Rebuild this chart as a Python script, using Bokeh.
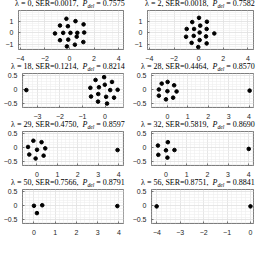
from bokeh.plotting import figure
from bokeh.layouts import column, row
from bokeh.models import Range1d, FixedTicker, Div
from bokeh.embed import file_html
from bokeh.resources import INLINE
import numpy as np

# ---------------- data ----------------
lambdas = [0, 2, 18, 28, 29, 32, 50, 56]
sers = ["0.0017", "0.0018", "0.1214", "0.4464", "0.4750", "0.5819", "0.7566", "0.8751"]
pdels = ["0.7575", "0.7582", "0.8214", "0.8570", "0.8597", "0.8690", "0.8791", "0.8841"]

x_lam0 = [-0.25, 0.49, -0.77, -0.13, 1.15, -1.18, -0.51, 0.08, 0.64, 1.20, -0.77, -0.10, 0.59, 1.13, -0.21, 0.44]
y_lam0 = [1.23, 1.02, 0.64, 0.58, 0.74, -0.05, 0.00, 0.00, 0.00, 0.03, -0.64, -0.59, -0.33, -0.80, -1.18, -1.03]

x_lam2 = [0.03, -0.52, 0.67, 0.13, -0.97, -0.37, 0.65, 0.08, 1.27, -1.02, -0.40, 0.60, 0.08, -0.57, 0.65, -0.03]
y_lam2 = [1.31, 0.94, 0.97, 0.63, 0.34, 0.34, 0.34, 0.03, -0.05, -0.34, -0.26, -0.31, -0.63, -0.87, -0.92, -1.24]

x_lam18 = [-3.49, -0.42, -0.04, 0.31, -0.65, -0.27, -0.01, 0.23, 0.56, -0.62, -0.30, 0.05, 0.40, -0.31, 0.09]
y_lam18 = [-0.01, 0.35, 0.45, 0.28, 0.07, 0.09, 0.18, -0.01, 0.00, -0.24, -0.15, -0.25, -0.28, -0.42, -0.49]

x_lam28 = [-0.28, 0.01, 0.33, -0.42, 0.00, 0.45, -0.42, -0.07, 0.28, 4.03]
y_lam28 = [0.22, 0.28, 0.16, 0.01, -0.05, -0.06, -0.21, -0.34, -0.28, -0.03]

x_lam29 = [-0.43, -0.17, 0.23, 0.01, 0.41, -0.37, -0.06, 0.33, 3.94]
y_lam29 = [0.03, 0.25, 0.20, -0.07, -0.02, -0.24, -0.38, -0.28, -0.08]

x_lam32 = [-0.39, 0.09, 0.00, 0.41, -0.37, 0.07, 4.00]
y_lam32 = [0.08, 0.20, -0.09, -0.08, -0.25, -0.35, -0.04]

x_lam50 = [0.00, 0.39, 0.14, 3.93]
y_lam50 = [0.00, 0.02, -0.26, -0.01]

x_lam56 = [-4.01, 0.00]
y_lam56 = [-0.02, -0.02]

xs = [x_lam0, x_lam2, x_lam18, x_lam28, x_lam29, x_lam32, x_lam50, x_lam56]
ys = [y_lam0, y_lam2, y_lam18, y_lam28, y_lam29, y_lam32, y_lam50, y_lam56]

x_limits = [(-4.15, 4.4), (-4.15, 4.45), (-3.66, 0.82), (-0.78, 4.22),
            (-0.7, 4.23), (-0.7, 4.23), (-0.54, 4.22), (-4.23, 0.13)]
y_limits = [(-1.45, 1.95), (-1.45, 1.95), (-0.63, 0.58), (-0.63, 0.58),
            (-0.63, 0.58), (-0.63, 0.58), (-0.63, 0.58), (-0.63, 0.58)]

x_ticks = [[-4, -2, 0, 2, 4], [-4, -2, 0, 2, 4], [-3, -2, -1, 0], [0, 1, 2, 3, 4],
           [0, 1, 2, 3, 4], [0, 1, 2, 3, 4], [0, 1, 2, 3, 4], [-4, -3, -2, -1, 0]]
y_ticks = [[-1, 0, 1], [-1, 0, 1]] + [[-0.5, 0, 0.5]] * 6

# ---------------- styling ----------------
SERIF = "Liberation Serif"
SANS = "Liberation Sans"
AX = "#262626"
TITLE_H = 9
TFS = 8.0

REG = {" ": 0.25, ",": 0.25, ".": 0.25, "=": 0.564, "S": 0.556, "E": 0.611,
       "R": 0.667, "\u03bb": 0.55}
ITA = {"P": 0.611, "d": 0.5, "e": 0.444, "l": 0.278}


def text_w(s, table, size):
    return size * sum(table.get(c, 0.5) for c in s)


def minor_of(ticks, lo, hi):
    step = ticks[1] - ticks[0]
    m = 4 if abs(step - 2) < 1e-9 else 5
    sub = step / m
    vals = np.arange(np.floor(lo / sub) * sub, hi + sub / 2, sub)
    return [float(round(v, 6)) for v in vals]


def make_title(i, width, bl, br):
    main1 = f"\u03bb = {lambdas[i]}, SER={sers[i]},  "
    main2 = f" = {pdels[i]}"
    total = (text_w(main1, REG, TFS) + text_w("P", ITA, TFS)
             + text_w("del", ITA, TFS * 0.7) + text_w(main2, REG, TFS))
    cx = bl + (width - bl - br) / 2.0
    left = max(0, int(round(cx - total / 2.0)))
    html = (
        f'\u03bb = {lambdas[i]}, SER={sers[i]},&nbsp; <i>P</i>'
        f'<sub style="font-size:70%;vertical-align:-1.5px;line-height:0;font-style:italic">del</sub>'
        f' = {pdels[i]}'
    )
    return Div(text=html, width=width - left, height=TITLE_H, margin=(0, 0, 0, left),
               styles={"font-family": f"'{SERIF}'", "font-size": f"{TFS}px",
                       "line-height": "8px", "white-space": "nowrap",
                       "color": "black", "overflow": "visible",
                       "text-align": "left", "padding": "0"})


def make(i, width, height, bl, br):
    xr, yr = x_limits[i], y_limits[i]
    p = figure(width=width, height=height - TITLE_H, output_backend="svg",
               toolbar_location=None, title=None,
               x_range=Range1d(*xr), y_range=Range1d(*yr),
               min_border_left=bl, min_border_right=br, min_border_top=1,
               min_border_bottom=11)
    p.background_fill_color = "white"
    p.border_fill_color = "white"
    p.outline_line_color = AX
    p.outline_line_width = 0.6
    p.xaxis.ticker = FixedTicker(ticks=x_ticks[i], minor_ticks=minor_of(x_ticks[i], *xr))
    p.yaxis.ticker = FixedTicker(ticks=y_ticks[i], minor_ticks=minor_of(y_ticks[i], *yr))
    for ax in (p.xaxis, p.yaxis):
        ax.axis_line_color = None
        ax.major_tick_in = 2
        ax.major_tick_out = 0
        ax.major_tick_line_color = AX
        ax.major_tick_line_width = 0.6
        ax.minor_tick_line_color = None
        ax.major_label_text_font = SANS
        ax.major_label_text_font_size = "7px"
        ax.major_label_text_color = AX
    p.xaxis.major_label_standoff = 2
    p.yaxis.major_label_standoff = 1
    for g in (p.xgrid, p.ygrid):
        g.grid_line_color = "#dcdcdc"
        g.grid_line_width = 0.6
        g.minor_grid_line_color = "#eeeeee"
        g.minor_grid_line_width = 0.6
    p.scatter(xs[i], ys[i], size=3.6, color="black")
    return column(make_title(i, width, bl, br), p, spacing=0)


heights = [63, 58, 58, 58]
rows = []
for r in range(4):
    bl = 18 if r == 0 else 14
    left = make(2 * r, 129, heights[r], bl, 6)
    right = make(2 * r + 1, 129, heights[r], bl, 5)
    rows.append(row(left, right, spacing=0))

layout = column(*rows, spacing=0)

open("out.html", "w").write(file_html(layout, INLINE))
